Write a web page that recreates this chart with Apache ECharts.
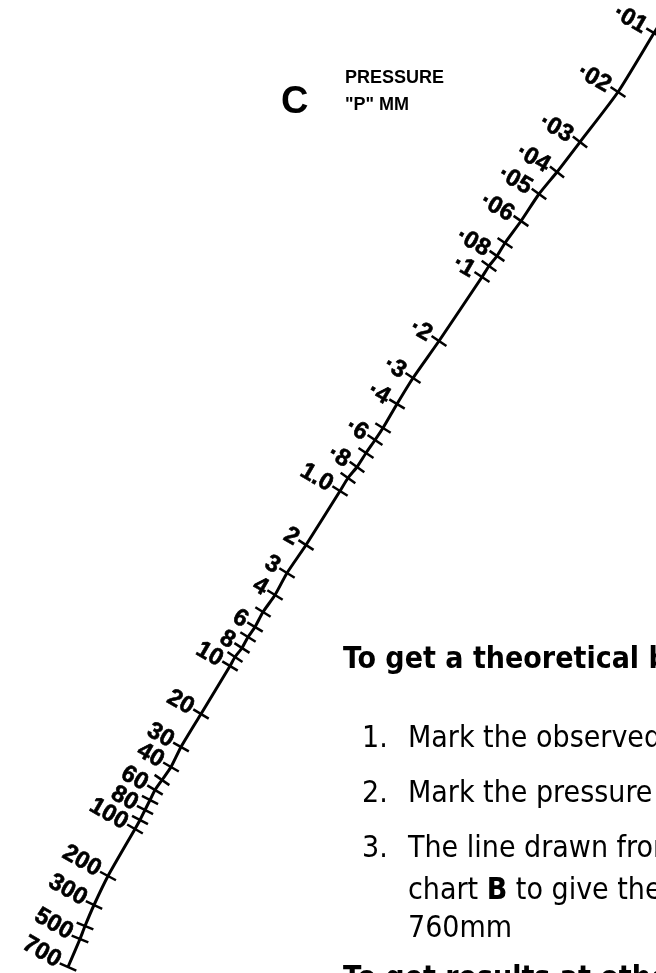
<!DOCTYPE html>
<html>
<head>
<meta charset="utf-8">
<script src="https://cdn.jsdelivr.net/npm/echarts@6/dist/echarts.min.js"></script>
<style>
html, body { margin: 0; padding: 0; background: #fff; }
#chart { width: 656px; height: 973px; }
</style>
</head>
<body>
<div id="chart"></div>
<script>
// scale C : pressure "P" in mm, every tick and where it sits on the sheet
var pressures = [0.01, 0.02, 0.03, 0.04, 0.05, 0.06, 0.07, 0.08, 0.09, 0.1,
                 0.2, 0.3, 0.4, 0.5, 0.6, 0.7, 0.8, 0.9, 1,
                 2, 3, 4, 5, 6, 7, 8, 9, 10,
                 20, 30, 40, 50, 60, 70, 80, 90, 100,
                 200, 300, 400, 500, 700];
var tickLabels = ['·01', '·02', '·03', '·04', '·05', '·06', '', '·08', '', '·1',
                  '·2', '·3', '·4', '', '·6', '', '·8', '', '1.0',
                  '2', '3', '4', '', '6', '', '8', '', '10',
                  '20', '30', '40', '', '60', '', '80', '', '100',
                  '200', '300', '', '500', '700'];
// sheet position of each tick (sheet units, y counted downwards)
var sheetX = [654, 618, 580, 557, 539, 521, 505, 497, 489, 482,
              439, 413, 397, 383, 375, 366, 357, 348, 340,
              306, 287, 275, 263, 255, 248, 242, 235, 230,
              201, 181, 171, 162, 155, 150, 145, 140, 135,
              108, 94, 85, 80, 68];
var sheetY = [33, 92, 142, 172, 194, 221, 243, 256, 266, 277,
              341, 378, 404, 428, 440, 453, 467, 478, 491,
              545, 573, 595, 612, 627, 637, 648, 657, 666,
              714, 747, 767, 780, 790, 800, 810, 820, 829,
              876, 905, 926, 939, 967];
// the scale line runs on past ·01, off the top of the sheet
var leadX = [672];
var leadY = [4];

var curve = [];
for (var k = 0; k < leadX.length; k++) curve.push([leadX[k], leadY[k]]);
for (var i = 0; i < sheetX.length; i++) curve.push([sheetX[i], sheetY[i]]);

var tickData = [];
for (var j = 0; j < pressures.length; j++) {
    tickData.push([sheetX[j], sheetY[j], pressures[j]]);
}

var labelFont = 'bold 24px "Liberation Sans", Arial, sans-serif';

function renderTick(params, api) {
    var i = params.dataIndex;
    var n = sheetX.length;
    var p = api.coord([api.value(0), api.value(1)]);
    var a = api.coord([sheetX[Math.max(i - 1, 0)], sheetY[Math.max(i - 1, 0)]]);
    var b = api.coord([sheetX[Math.min(i + 1, n - 1)], sheetY[Math.min(i + 1, n - 1)]]);
    var dx = b[0] - a[0], dy = b[1] - a[1];
    var len = Math.sqrt(dx * dx + dy * dy);
    var nx = -dy / len, ny = dx / len;
    var half = 9;
    var children = [{
        type: 'line',
        shape: { x1: p[0] - nx * half, y1: p[1] - ny * half, x2: p[0] + nx * half, y2: p[1] + ny * half },
        style: { stroke: '#000', lineWidth: 2.5 }
    }];
    if (tickLabels[i]) {
        children.push({
            type: 'text',
            x: p[0] - 9,
            y: p[1] - 5,
            rotation: -Math.PI / 6,
            style: {
                text: tickLabels[i],
                font: labelFont,
                fill: '#000',
                stroke: '#000',
                lineWidth: 0.6,
                align: 'right',
                verticalAlign: 'middle'
            }
        });
    }
    return { type: 'group', children: children };
}

var narrow = '"Liberation Sans Narrow", "DejaVu Sans Condensed", "Liberation Sans", sans-serif';

var option = {
    animation: false,
    backgroundColor: '#fff',
    grid: { left: 0, right: 0, top: 0, bottom: 0 },
    xAxis: { type: 'value', min: 0, max: 656, show: false },
    yAxis: { type: 'value', min: 0, max: 973, inverse: true, show: false },
    graphic: [
        { type: 'text', left: 281, top: 84, style: { text: 'C', font: 'bold 38px "Liberation Sans", Arial, sans-serif', fill: '#000' } },
        { type: 'text', left: 345, top: 69, style: { text: 'PRESSURE', font: 'bold 18px "Liberation Sans", Arial, sans-serif', fill: '#000' } },
        { type: 'text', left: 345, top: 96, style: { text: '"P" MM', font: 'bold 18px "Liberation Sans", Arial, sans-serif', fill: '#000' } },
        { type: 'text', left: 343, top: 645, style: { text: 'To get a theoretical boiling point', font: 'bold 30px ' + narrow, fill: '#000' } },
        { type: 'text', left: 362, top: 724, style: { text: '1.', font: '30px ' + narrow, fill: '#000' } },
        { type: 'text', left: 408, top: 724, style: { text: 'Mark the observed boiling point', font: '30px ' + narrow, fill: '#000' } },
        { type: 'text', left: 362, top: 779, style: { text: '2.', font: '30px ' + narrow, fill: '#000' } },
        { type: 'text', left: 408, top: 779, style: { text: 'Mark the pressure on chart C', font: '30px ' + narrow, fill: '#000' } },
        { type: 'text', left: 362, top: 834, style: { text: '3.', font: '30px ' + narrow, fill: '#000' } },
        { type: 'text', left: 408, top: 834, style: { text: 'The line drawn from A to C cuts', font: '30px ' + narrow, fill: '#000' } },
        { type: 'text', left: 408, top: 876, style: { text: 'chart {b|B} to give the boiling point at', font: '30px ' + narrow, fill: '#000',
            rich: { b: { font: 'bold 30px ' + narrow, fill: '#000' } } } },
        { type: 'text', left: 408, top: 914, style: { text: '760mm', font: '30px ' + narrow, fill: '#000' } },
        { type: 'text', left: 343, top: 964, style: { text: 'To get results at other pressures', font: 'bold 30px ' + narrow, fill: '#000' } }
    ],
    series: [
        {
            type: 'line',
            data: curve,
            smooth: 0.2,
            symbol: 'none',
            silent: true,
            lineStyle: { color: '#000', width: 3 }
        },
        {
            type: 'custom',
            data: tickData,
            renderItem: renderTick,
            silent: true
        }
    ]
};

var myChart = echarts.init(document.getElementById('chart'));
myChart.setOption(option);
</script>
</body>
</html>
